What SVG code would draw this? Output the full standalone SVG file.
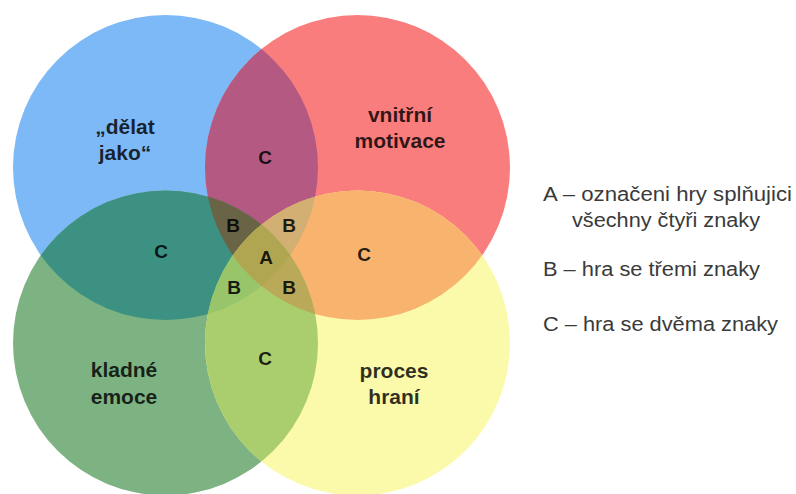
<svg xmlns="http://www.w3.org/2000/svg" width="796" height="494" viewBox="0 0 796 494">
<style>
.lbl{font-family:"Liberation Sans",Arial,sans-serif;font-weight:bold;font-size:21px;fill:#000;fill-opacity:0.82;text-anchor:middle}
.let{font-family:"Liberation Sans",Arial,sans-serif;font-weight:bold;font-size:19px;fill:#000;fill-opacity:0.85;text-anchor:middle}
.leg{font-family:"Liberation Sans",Arial,sans-serif;font-size:20px;fill:#3a3a3a}
</style>
<defs>
<clipPath id="cB"><circle cx="165.5" cy="167.5" r="152.5"/></clipPath>
<clipPath id="cR"><circle cx="357.5" cy="167.5" r="152.5"/></clipPath>
<clipPath id="cG"><circle cx="165.5" cy="343" r="152.5"/></clipPath>
<clipPath id="cY"><circle cx="357.5" cy="343" r="152.5"/></clipPath>
</defs>
<rect width="796" height="494" fill="#ffffff"/>
<g id="circle-blue"><circle cx="165.5" cy="167.5" r="152.5" fill="#7cb9f6"/></g>
<g id="circle-red"><circle cx="357.5" cy="167.5" r="152.5" fill="#fa7d7d"/></g>
<g id="circle-green"><circle cx="165.5" cy="343" r="152.5" fill="#7db282"/></g>
<g id="circle-yellow"><circle cx="357.5" cy="343" r="152.5" fill="#fafaaa"/></g>
<g id="overlaps">
<g clip-path="url(#cB)"><circle cx="357.5" cy="167.5" r="152.5" fill="#b45a82"/></g>
<g clip-path="url(#cB)"><circle cx="165.5" cy="343" r="152.5" fill="#3c9182"/></g>
<g clip-path="url(#cR)"><circle cx="357.5" cy="343" r="152.5" fill="#f8b46e"/></g>
<g clip-path="url(#cG)"><circle cx="357.5" cy="343" r="152.5" fill="#aacd6e"/></g>
<g clip-path="url(#cB)"><g clip-path="url(#cR)"><circle cx="165.5" cy="343" r="152.5" fill="#6a6446"/></g></g>
<g clip-path="url(#cB)"><g clip-path="url(#cR)"><circle cx="357.5" cy="343" r="152.5" fill="#d2af73"/></g></g>
<g clip-path="url(#cB)"><g clip-path="url(#cG)"><circle cx="357.5" cy="343" r="152.5" fill="#98c46a"/></g></g>
<g clip-path="url(#cR)"><g clip-path="url(#cG)"><circle cx="357.5" cy="343" r="152.5" fill="#baa958"/></g></g>
<g clip-path="url(#cB)"><g clip-path="url(#cR)"><g clip-path="url(#cG)"><circle cx="357.5" cy="343" r="152.5" fill="#b0a652"/></g></g></g>
</g>
<g id="labels">
<text class="lbl" x="125" y="134">„dělat</text>
<text class="lbl" x="125" y="160">jako“</text>
<text class="lbl" x="400" y="122">vnitřní</text>
<text class="lbl" x="400" y="148">motivace</text>
<text class="lbl" x="124" y="377">kladné</text>
<text class="lbl" x="124" y="404">emoce</text>
<text class="lbl" x="394" y="378">proces</text>
<text class="lbl" x="394" y="404">hraní</text>
<text class="let" x="265" y="164">C</text>
<text class="let" x="161" y="258">C</text>
<text class="let" x="364" y="261">C</text>
<text class="let" x="265" y="365">C</text>
<text class="let" x="233" y="232">B</text>
<text class="let" x="289" y="232">B</text>
<text class="let" x="234" y="294">B</text>
<text class="let" x="289" y="294">B</text>
<text class="let" x="266" y="264">A</text>
</g>
<g id="legend">
<text class="leg" x="543" y="201" textLength="249" lengthAdjust="spacingAndGlyphs">A – označeni hry splňujici</text>
<text class="leg" x="666" y="227" text-anchor="middle" textLength="188" lengthAdjust="spacingAndGlyphs">všechny čtyři znaky</text>
<text class="leg" x="543" y="276" textLength="217" lengthAdjust="spacingAndGlyphs">B – hra se třemi znaky</text>
<text class="leg" x="543" y="331" textLength="235" lengthAdjust="spacingAndGlyphs">C – hra se dvěma znaky</text>
</g>
</svg>
